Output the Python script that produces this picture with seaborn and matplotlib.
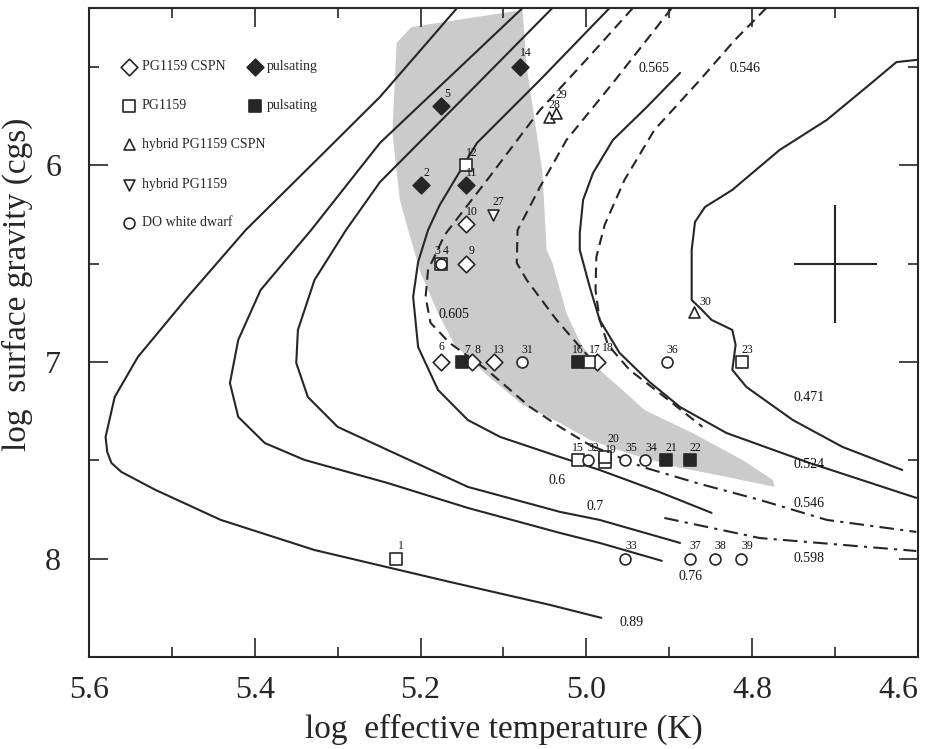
import matplotlib
matplotlib.use('Agg')
import matplotlib.pyplot as plt
from matplotlib.ticker import MultipleLocator, FixedLocator
import pandas as pd
import seaborn as sns

# ---------------- data (log Teff, log g) ----------------
# solid evolutionary tracks
trk089_T = [5.156, 5.201, 5.249, 5.322, 5.411, 5.481, 5.514, 5.541, 5.569, 5.580,
            5.578, 5.573, 5.561, 5.520, 5.441, 5.328, 5.165, 5.044, 4.982]
trk089_g = [5.200, 5.419, 5.652, 5.958, 6.329, 6.669, 6.837, 6.974, 7.178, 7.381,
            7.457, 7.513, 7.559, 7.650, 7.803, 7.956, 8.118, 8.235, 8.301]

trk076_T = [5.077, 5.165, 5.249, 5.332, 5.393, 5.420, 5.430, 5.420, 5.388, 5.340,
            5.240, 5.143, 5.032, 4.984, 4.909]
trk076_g = [5.200, 5.551, 5.886, 6.329, 6.634, 6.888, 7.107, 7.279, 7.412, 7.498,
            7.615, 7.742, 7.869, 7.920, 8.011]

trk070_T = [5.041, 5.141, 5.249, 5.290, 5.328, 5.348, 5.350, 5.336, 5.300, 5.240,
            5.143, 5.032, 4.984, 4.887]
trk070_g = [5.200, 5.627, 6.085, 6.329, 6.583, 6.837, 7.005, 7.178, 7.330, 7.447,
            7.635, 7.762, 7.803, 7.920]

trk060_T = [4.972, 5.056, 5.132, 5.177, 5.191, 5.203, 5.209, 5.203, 5.179, 5.143,
            5.104, 5.032, 4.984, 4.912, 4.849]
trk060_g = [5.200, 5.566, 5.886, 6.202, 6.329, 6.491, 6.669, 6.924, 7.142, 7.295,
            7.381, 7.483, 7.549, 7.661, 7.767]

trk0565_T = [4.887, 4.927, 4.968, 4.992, 5.004, 5.008, 5.008, 4.996, 4.984, 4.960,
             4.924, 4.887, 4.831, 4.731, 4.602]
trk0565_g = [5.530, 5.703, 5.871, 6.039, 6.176, 6.344, 6.430, 6.618, 6.786, 6.954,
             7.101, 7.229, 7.361, 7.513, 7.691]

trk0471_T = [4.602, 4.626, 4.662, 4.710, 4.767, 4.824, 4.857, 4.869, 4.873, 4.873,
             4.863, 4.849, 4.824, 4.820, 4.824, 4.807, 4.751, 4.691, 4.619]
trk0471_g = [5.464, 5.475, 5.602, 5.769, 5.922, 6.125, 6.212, 6.288, 6.430, 6.685,
             6.725, 6.786, 6.837, 6.913, 7.040, 7.127, 7.295, 7.432, 7.549]

# dashed tracks
dsh0605_T = [4.944, 4.996, 5.056, 5.117, 5.171, 5.191, 5.194, 5.188, 5.165, 5.120,
             5.068, 5.032, 4.996]
dsh0605_g = [5.200, 5.444, 5.719, 6.059, 6.354, 6.532, 6.669, 6.801, 6.903, 7.040,
             7.229, 7.330, 7.422]

dshmid_T = [4.897, 4.968, 5.024, 5.056, 5.083, 5.084, 5.072, 5.036, 5.012, 4.996]
dshmid_g = [5.200, 5.581, 5.871, 6.110, 6.329, 6.496, 6.583, 6.786, 6.903, 6.979]

dsh0546_T = [4.783, 4.821, 4.863, 4.918, 4.954, 4.978, 4.988, 4.989, 4.984, 4.974,
             4.948, 4.912, 4.860]
dsh0546_g = [5.200, 5.363, 5.566, 5.820, 6.074, 6.303, 6.466, 6.634, 6.786, 6.913,
             7.040, 7.157, 7.330]

# dash-dot cooling tracks
dd0546_T = [4.996, 4.932, 4.863, 4.791, 4.710, 4.602]
dd0546_g = [7.422, 7.534, 7.620, 7.701, 7.803, 7.864]
dd0598_T = [4.906, 4.791, 4.602]
dd0598_g = [7.793, 7.895, 7.961]

# shaded instability region
strip_T = [5.229, 5.211, 5.141, 5.077, 5.072, 5.060, 5.053, 5.048, 5.041, 5.024,
           5.008, 4.984, 4.954, 4.930, 4.872, 4.812, 4.775, 4.773, 4.831, 4.891,
           4.951, 4.996, 5.032, 5.077, 5.120, 5.159, 5.179, 5.200, 5.215, 5.225, 5.234]
strip_g = [5.378, 5.297, 5.251, 5.210, 5.500, 5.836, 6.039, 6.430, 6.496, 6.751,
           6.898, 7.040, 7.152, 7.244, 7.361, 7.498, 7.600, 7.635, 7.584, 7.534,
           7.462, 7.396, 7.310, 7.218, 7.066, 6.913, 6.751, 6.547, 6.329, 6.176, 5.836]

# track mass labels
mass_lab = ['0.565', '0.546', '0.605', '0.471', '0.524', '0.546', '0.598',
            '0.6', '0.7', '0.76', '0.89']
mass_T = [4.918, 4.809, 5.160, 4.732, 4.732, 4.732, 4.731, 5.035, 4.989, 4.874, 4.945]
mass_g = [5.510, 5.510, 6.761, 7.178, 7.523, 7.722, 8.001, 7.600, 7.737, 8.093, 8.327]

# stars
star_id = ['1', '2', '3', '4', '5', '6', '7', '8', '9', '10', '11', '12', '13', '14',
           '15', '16', '17', '18', '19', '20', '21', '22', '23', '27', '28', '29',
           '30', '31', '32', '33', '34', '35', '36', '37', '38', '39']
star_T = [5.23, 5.20, 5.175, 5.175, 5.175, 5.175, 5.15, 5.138, 5.145, 5.145, 5.145,
          5.145, 5.112, 5.08, 5.01, 5.01, 4.997, 4.987, 4.977, 4.977, 4.904, 4.875,
          4.812, 5.113, 5.045, 5.037, 4.87, 5.078, 4.998, 4.953, 4.929, 4.953, 4.903,
          4.875, 4.845, 4.813]
star_g = [8.0, 6.1, 6.5, 6.5, 5.7, 7.0, 7.0, 7.0, 6.5, 6.3, 6.1, 6.0, 7.0, 5.5, 7.5,
          7.0, 7.0, 7.0, 7.51, 7.485, 7.5, 7.5, 7.0, 6.25, 5.756, 5.735, 6.745, 7.0,
          7.5, 8.0, 7.5, 7.5, 7.0, 8.0, 8.0, 8.0]
star_kind = ['pg', 'cspn_p', 'pg', 'do', 'cspn_p', 'cspn', 'pg_p', 'cspn', 'cspn',
             'cspn', 'cspn_p', 'pg', 'cspn', 'cspn_p', 'pg', 'pg_p', 'pg', 'cspn',
             'pg', 'pg', 'pg_p', 'pg_p', 'pg', 'hyb_pg', 'hyb_cspn', 'hyb_cspn',
             'hyb_cspn', 'do', 'do', 'do', 'do', 'do', 'do', 'do', 'do', 'do']

# typical error bar
err_T, err_g = [4.70], [6.5]
err_dT, err_dg = [0.05], [0.3]

# ---------------- styling ----------------
sns.set_style('ticks')
plt.rcParams['font.family'] = ['Liberation Serif', 'DejaVu Serif']
INK = '#262626'

kinds = {
    'cspn':     dict(marker='D', fc='white', s=72),
    'cspn_p':   dict(marker='D', fc=INK, s=72),
    'pg':       dict(marker='s', fc='white', s=68),
    'pg_p':     dict(marker='s', fc=INK, s=68),
    'hyb_cspn': dict(marker='^', fc='white', s=62),
    'hyb_pg':   dict(marker='v', fc='white', s=62),
    'do':       dict(marker='o', fc='white', s=62),
}

fig = plt.figure(figsize=(9.29, 7.49), dpi=100)
ax = fig.add_axes([89 / 929, 1 - 657 / 749, 829 / 929, 649 / 749])

ax.fill(strip_T, strip_g, color='#cbcbcb', lw=0, zorder=0)

for T, g in [(trk089_T, trk089_g), (trk076_T, trk076_g), (trk070_T, trk070_g),
             (trk060_T, trk060_g), (trk0565_T, trk0565_g), (trk0471_T, trk0471_g)]:
    sns.lineplot(x=T, y=g, sort=False, estimator=None, color=INK, lw=1.5, ax=ax)

for T, g in [(dsh0605_T, dsh0605_g), (dshmid_T, dshmid_g), (dsh0546_T, dsh0546_g)]:
    sns.lineplot(x=T, y=g, sort=False, estimator=None, color=INK, lw=1.5,
                 linestyle=(0, (5, 3)), ax=ax)

for T, g in [(dd0546_T, dd0546_g), (dd0598_T, dd0598_g)]:
    sns.lineplot(x=T, y=g, sort=False, estimator=None, color=INK, lw=1.5,
                 linestyle=(0, (7, 3, 1.5, 3)), ax=ax)

ax.errorbar(err_T, err_g, xerr=err_dT, yerr=err_dg, fmt='none', ecolor=INK,
            elinewidth=1.5, capsize=0)

stars = pd.DataFrame({'T': star_T, 'g': star_g, 'kind': star_kind, 'id': star_id})
for k, st in kinds.items():
    sub = stars[stars['kind'] == k]
    sns.scatterplot(data=sub, x='T', y='g', marker=st['marker'], s=st['s'],
                    color=st['fc'], edgecolor=INK, linewidth=1.2, zorder=3, ax=ax)

# star numbers, shifted up-right like the original
offsets = {'3': (-3, 9), '4': (3, 9), '6': (0, 10.5), '14': (4, 10),
           '15': (0, 9), '16': (0, 9), '18': (8, 10), '20': (5.5, 13.5),
           '29': (4, 13), '30': (8, 7)}
for _, r in stars.iterrows():
    ax.annotate(r['id'], (r['T'], r['g']), xytext=offsets.get(r['id'], (4, 9)),
                textcoords='offset points', fontsize=8.5, ha='center', va='center',
                color='#111111', zorder=4)

for lab, T, g in zip(mass_lab, mass_T, mass_g):
    ax.text(T, g, lab, fontsize=10, ha='center', va='center', color='#111111', zorder=4)

# hand-made legend in the upper left corner
leg_rows = [('cspn', 'PG1159 CSPN', 'cspn_p'), ('pg', 'PG1159', 'pg_p'),
            ('hyb_cspn', 'hybrid PG1159 CSPN', None), ('hyb_pg', 'hybrid PG1159', None),
            ('do', 'DO white dwarf', None)]
leg_y = [0.9095, 0.8490, 0.7899, 0.7273, 0.6692]
for (k, txt, kp), yy in zip(leg_rows, leg_y):
    st = kinds[k]
    ax.scatter([0.0486], [yy], marker=st['marker'], s=st['s'], c=st['fc'],
               edgecolors=INK, linewidths=1.2, transform=ax.transAxes, zorder=3)
    ax.text(0.0636, yy, txt, transform=ax.transAxes, fontsize=10, va='center')
    if kp:
        st = kinds[kp]
        ax.scatter([0.2008], [yy], marker=st['marker'], s=st['s'], c=st['fc'],
                   edgecolors=INK, linewidths=1.2, transform=ax.transAxes, zorder=3)
        ax.text(0.2143, yy, 'pulsating', transform=ax.transAxes, fontsize=10,
                va='center')

ax.set_xlim(5.6, 4.6)
ax.set_ylim(8.5, 5.2)
ax.set_xticks([5.6, 5.4, 5.2, 5.0, 4.8, 4.6])
ax.set_xticklabels(['5.6', '5.4', '5.2', '5.0', '4.8', '4.6'])
ax.xaxis.set_minor_locator(MultipleLocator(0.1))
ax.set_yticks([6, 7, 8])
ax.set_yticklabels(['6', '7', '8'])
ax.yaxis.set_minor_locator(FixedLocator([5.5, 6.5, 7.5]))
ax.tick_params(which='both', direction='in', top=True, right=True, color=INK,
               width=1.2, labelsize=23)
ax.tick_params(which='major', length=14)
ax.tick_params(which='minor', length=7)
ax.tick_params(axis='x', which='major', pad=14)
ax.tick_params(axis='y', which='major', pad=20)
ax.get_xticklabels()[-1].set_horizontalalignment('right')
for sp in ax.spines.values():
    sp.set_linewidth(1.5)
    sp.set_color(INK)

ax.set_xlabel('log  effective temperature (K)', fontsize=24, labelpad=6)
ax.set_ylabel('log  surface gravity (cgs)', fontsize=24)
ax.yaxis.set_label_coords(-0.068, 0.575)

fig.savefig('out.png', dpi=100)
